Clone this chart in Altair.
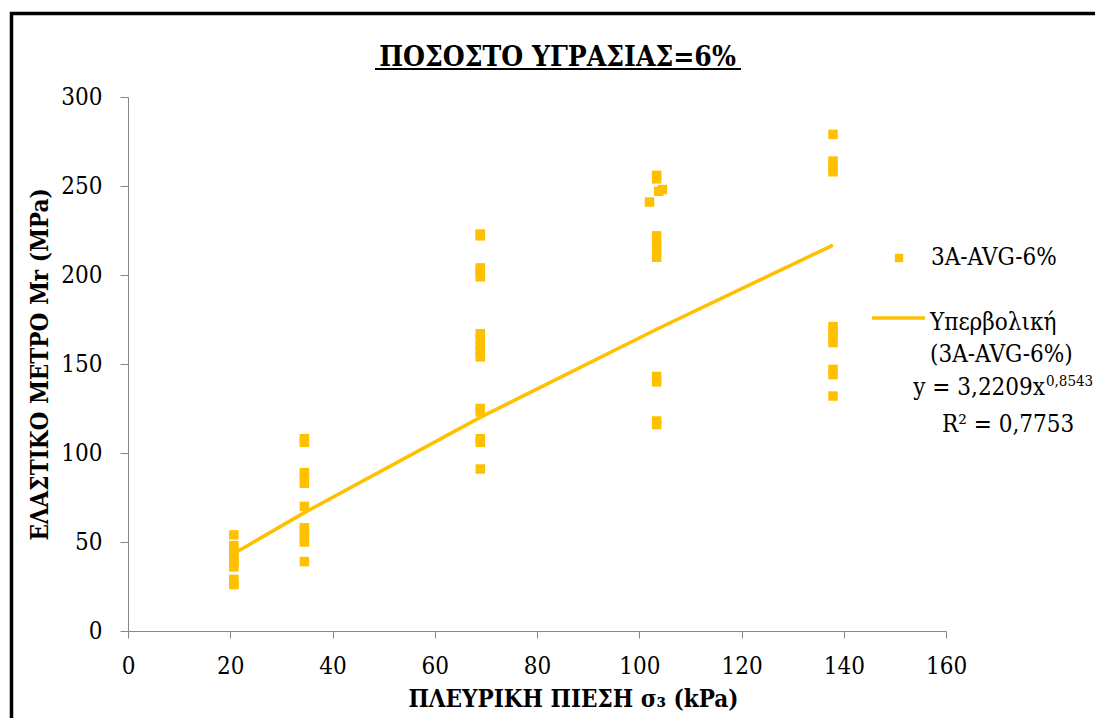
import altair as alt
import pandas as pd

# data
x_vals = ([20.7] * 10 + [34.5] * 11 + [68.9] * 15 + [103.4] * 10 + [102.0, 104.5, 103.8] + [137.9] * 11)
y_vals = ([54, 48, 45, 42, 40, 38, 36, 29, 27, 26]
          + [108, 106, 89, 87, 83, 70, 58, 56, 52, 50, 39]
          + [223, 222, 204, 202, 199, 167, 164, 160, 157, 154, 125, 123, 108, 106, 91]
          + [256, 254, 222, 218, 214, 210, 143, 140, 118, 116] + [241, 248, 247]
          + [279, 264, 261, 258, 171, 168, 165, 162, 147, 144, 132])
# trend line (power fit)
trend_x = [20.7, 34.5, 68.9, 103.4, 137.9]
trend_y = [43.5, 66.5, 120.0, 169.5, 216.8]

x_ticks = [0, 20, 40, 60, 80, 100, 120, 140, 160]
y_ticks = [0, 50, 100, 150, 200, 250, 300]

title_text = "ΠΟΣΟΣΤΟ ΥΓΡΑΣΙΑΣ=6%"
x_title = "ΠΛΕΥΡΙΚΗ ΠΙΕΣΗ σ₃ (kPa)"
y_title = "ΕΛΑΣΤΙΚΟ ΜΕΤΡΟ Mr (MPa)"
series_name = "3A-AVG-6%"
trend_name = ["Υπερβολική", "(3A-AVG-6%)"]
eq_main = "y = 3,2209x"
eq_sup = "0,8543"
r2_text = "R² = 0,7753"

GOLD = "#FFC000"
SERIF = "DejaVu Serif Condensed"

df = pd.DataFrame({"x": x_vals, "y": y_vals})
tdf = pd.DataFrame({"x": trend_x, "y": trend_y})

W, H = 818, 534

xscale = alt.Scale(domain=[0, 160], nice=False, zero=True)
yscale = alt.Scale(domain=[0, 300], nice=False, zero=True)

xaxis = alt.Axis(values=x_ticks, grid=False, title=x_title, titleFont=SERIF, titleFontSize=24,
                 titleFontWeight="bold", titleColor="black", titlePadding=9, titleX=445,
                 labelFont=SERIF, labelFontSize=24, labelColor="black", labelPadding=16,
                 domainColor="#868686", tickColor="#868686", tickSize=7, labelFlush=False)
yaxis = alt.Axis(values=y_ticks, grid=False, title=y_title, titleFont=SERIF, titleFontSize=24,
                 titleFontWeight="bold", titleColor="black", titlePadding=8,
                 labelFont=SERIF, labelFontSize=24, labelColor="black", labelPadding=18,
                 domainColor="#868686", tickColor="#868686", tickSize=8, labelFlush=False)

points = alt.Chart(df).mark_point(shape="square", filled=True, size=90, color=GOLD, opacity=1).encode(
    x=alt.X("x:Q", scale=xscale, axis=xaxis),
    y=alt.Y("y:Q", scale=yscale, axis=yaxis),
)

trend = alt.Chart(tdf).mark_line(color=GOLD, strokeWidth=3.5).encode(
    x=alt.X("x:Q", scale=xscale),
    y=alt.Y("y:Q", scale=yscale),
)

one = pd.DataFrame({"a": [0]})

# frame around the chart
frame = alt.Chart(one).mark_rect(
    fill=None, stroke="black", strokeWidth=3.5, clip=False).encode(
    x=alt.value(-116.5), x2=alt.value(W + 200), y=alt.value(-83.5), y2=alt.value(H + 200))

# title and underline
title = alt.Chart(pd.DataFrame({"t": [title_text]})).mark_text(
    font=SERIF, fontSize=28, fontWeight="bold", color="black", align="center",
    baseline="alphabetic").encode(
    x=alt.value(429.5), y=alt.value(-31), text="t:N")
underline = alt.Chart(one).mark_rule(color="black", strokeWidth=2).encode(
    x=alt.value(247), x2=alt.value(613), y=alt.value(-28))

# legend
leg_sq = alt.Chart(one).mark_point(
    shape="square", filled=True, size=70, color=GOLD, opacity=1).encode(
    x=alt.value(771), y=alt.value(161))
leg_line = alt.Chart(one).mark_rule(color=GOLD, strokeWidth=3.5).encode(
    x=alt.value(744), x2=alt.value(797), y=alt.value(221))

leg_df = pd.DataFrame({
    "t": [series_name, trend_name[0], trend_name[1], r2_text],
    "px": [803, 802, 802, 814],
    "py": [168, 233, 265, 335],
})
leg_text = alt.Chart(leg_df).mark_text(
    font=SERIF, fontSize=24, color="black", align="left", baseline="alphabetic").encode(
    x=alt.X("px:Q", scale=None), y=alt.Y("py:Q", scale=None), text="t:N")
eq1 = alt.Chart(pd.DataFrame({"t": [eq_main]})).mark_text(
    font=SERIF, fontSize=24, color="black", align="right", baseline="alphabetic").encode(
    x=alt.value(917), y=alt.value(298), text="t:N")
eq2 = alt.Chart(pd.DataFrame({"t": [eq_sup]})).mark_text(
    font=SERIF, fontSize=15, color="black", align="left", baseline="alphabetic").encode(
    x=alt.value(918), y=alt.value(289), text="t:N")

chart = alt.layer(frame, points, trend, title, underline, leg_sq, leg_line, leg_text, eq1, eq2).properties(
    width=W, height=H,
    padding={"left": 120, "top": 89, "right": 149, "bottom": 87},
    autosize=alt.AutoSizeParams(type="none"),
    background="white",
).configure_view(stroke=None)

chart.save("out.html", embed_options={"renderer": "svg", "actions": False})
